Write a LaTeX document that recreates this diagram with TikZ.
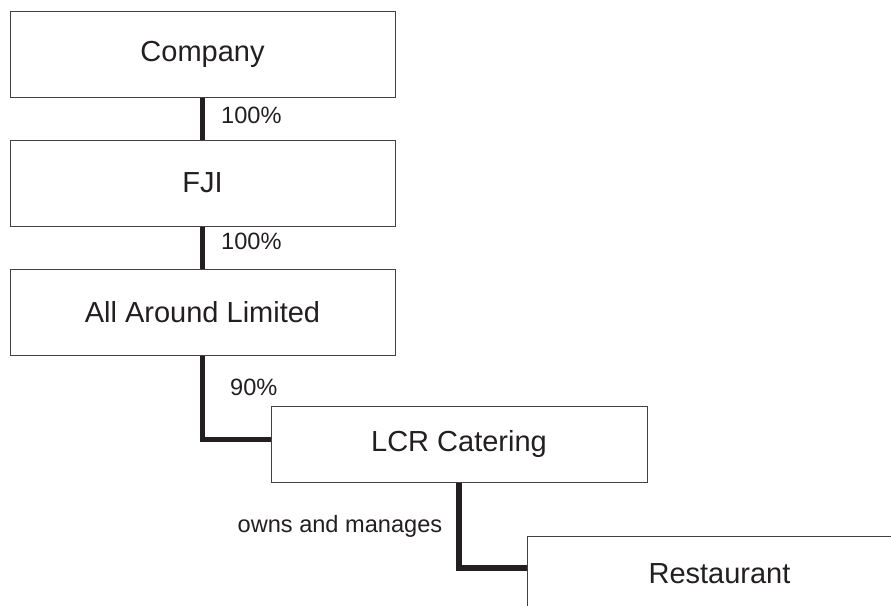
\documentclass[tikz,border=0pt]{standalone}
\usepackage{fontspec}
\setmainfont{Liberation Sans}
\usetikzlibrary{positioning,calc}
\definecolor{OrgInk}{RGB}{35,31,32}

\begin{document}
\begin{tikzpicture}[x=0.5pt,y=-0.5pt,
  ent/.style={draw=OrgInk!85,line width=0.5pt,fill=white,
              minimum width=192.5pt,minimum height=43pt,inner sep=0pt,
              font=\fontsize{14.5}{17}\selectfont,text=OrgInk},
  link/.style={draw=OrgInk,line width=2.7pt,line join=miter},
  pct/.style={font=\fontsize{11.8}{14}\selectfont,text=OrgInk,inner sep=0pt},
]
\useasboundingbox (0,0) rectangle (891,606);
\node[ent] (comp) at (202.5,54.5) {Company};
\node[ent] (fji) at (202.5,183) {FJI};
\node[ent] (aal) at (202.5,312) {All Around Limited};
\node[ent,minimum width=188pt,minimum height=38pt] (lcr) at (459,444) {LCR Catering};
\node[ent,minimum height=38pt] (rest) at (719.5,574) {Restaurant};
\coordinate (lcrin) at ($(lcr.north west)!0.44!(lcr.south west)$);
\coordinate (restin) at ($(rest.north west)!0.42!(rest.south west)$);
\draw[link] (comp) -- node[pct,right=8pt,yshift=1.5pt] {100\%} (fji);
\draw[link] (fji) -- node[pct,right=8pt,yshift=3pt] {100\%} (aal);
\draw[link] (aal) |- node[pct,pos=0.19,right=12.5pt] {90\%} (lcrin);
\draw[link] (lcr) |- node[pct,pos=0.26,left=7pt] {owns and manages} (restin);
\end{tikzpicture}
\end{document}
